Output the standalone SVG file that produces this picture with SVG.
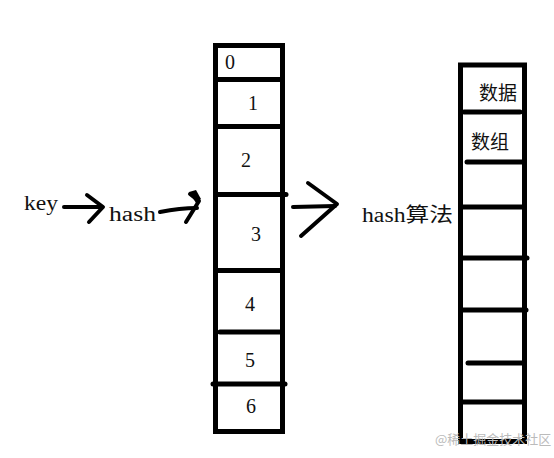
<svg xmlns="http://www.w3.org/2000/svg" width="554" height="458" viewBox="0 0 554 458">
<style>
.bx{fill:none;stroke:#000;stroke-width:5;stroke-linecap:butt}
.ln{stroke:#000;stroke-width:5;stroke-linecap:round;fill:none}
.t{font-family:"Liberation Serif","Noto Sans CJK SC",serif;font-size:20px;fill:#111}
.c{font-family:"Noto Sans CJK SC","Liberation Sans",sans-serif;font-size:19px;fill:#111}
.ar{stroke:#000;stroke-width:4;stroke-linecap:round;stroke-linejoin:round;fill:none}
.wm{font-family:"Noto Sans CJK SC","Liberation Sans",sans-serif;font-size:13px;fill:#bbb}
</style>
<rect width="554" height="458" fill="#fff"/>
<g id="key"><text class="t" x="24" y="210" textLength="34" lengthAdjust="spacingAndGlyphs">key</text></g>
<g id="hash"><text class="t" x="109" y="221" textLength="47" lengthAdjust="spacingAndGlyphs">hash</text></g>
<g id="table">
<rect class="bx" x="215.5" y="45.5" width="67" height="386"/>
<line class="ln" x1="216" y1="79.5" x2="282" y2="79.5"/>
<line class="ln" x1="216" y1="126.5" x2="282" y2="126.5"/>
<line class="ln" x1="217" y1="194.5" x2="286" y2="194.5"/>
<line class="ln" x1="216" y1="270.5" x2="282" y2="270.5"/>
<line class="ln" x1="220" y1="332" x2="282" y2="332"/>
<line class="ln" x1="213" y1="384" x2="285" y2="384"/>
<text class="t" x="225" y="69">0</text>
<text class="t" x="248" y="110">1</text>
<text class="t" x="241" y="167">2</text>
<text class="t" x="251" y="241">3</text>
<text class="t" x="245" y="311">4</text>
<text class="t" x="245" y="367">5</text>
<text class="t" x="246" y="413">6</text>
</g>
<g id="hashAlgo"><text class="t" x="362" y="222" textLength="91" lengthAdjust="spacingAndGlyphs">hash算法</text></g>
<g id="array">
<rect class="bx" x="460.5" y="65" width="64" height="376.5"/>
<line class="ln" x1="464" y1="112" x2="520" y2="112"/>
<line class="ln" x1="467" y1="162" x2="522" y2="162"/>
<line class="ln" x1="463" y1="207" x2="522" y2="207"/>
<line class="ln" x1="463" y1="258" x2="527" y2="258"/>
<line class="ln" x1="463" y1="310" x2="526" y2="310"/>
<line class="ln" x1="468" y1="363" x2="522" y2="363"/>
<line class="ln" x1="463" y1="402" x2="522" y2="402"/>
<text class="c" x="479" y="100">数据</text>
<text class="c" x="471" y="149">数组</text>
</g>
<g id="connectors">
<path class="ar" d="M64 207 L100 207"/>
<path class="ar" d="M87 195 L103 207 L89 222"/>
<path class="ar" d="M160 212 C175 209 185 208 197 208" stroke-width="5"/>
<path class="ar" d="M190 194 L199 201 L186 222" stroke-width="5"/>
<path d="M189 192 L196 190 L201 199 L196 203 Z" fill="#000"/>
<path class="ar" d="M293 207 L335 206"/>
<path class="ar" d="M308 183 L337 204 L301 236"/>
</g>
<text class="wm" x="435" y="444">@稀土掘金技术社区</text>
</svg>
